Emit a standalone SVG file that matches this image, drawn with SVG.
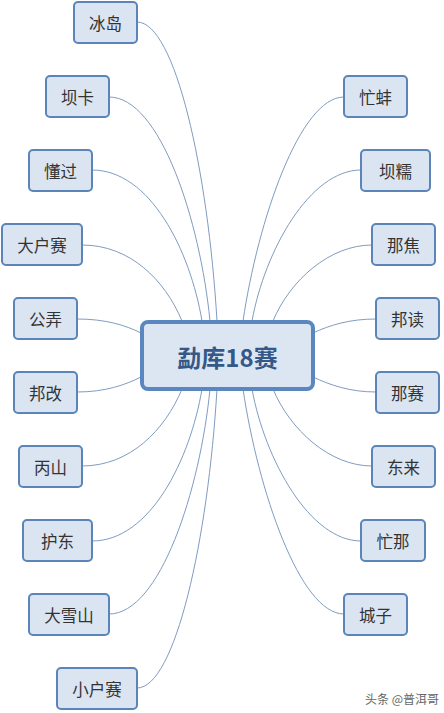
<svg xmlns="http://www.w3.org/2000/svg" width="444" height="713" viewBox="0 0 444 713">
<style>
.n rect{fill:#dbe5f1;stroke:#5b85b8;stroke-width:2}
.n text{font-family:"Noto Sans CJK SC","Noto Sans",sans-serif;font-size:16.5px;fill:#333;text-anchor:middle;dominant-baseline:central}
#links path{fill:none;stroke:#7f9cc0;stroke-width:1}
.c rect{fill:#dce6f2;stroke:#5b87c0;stroke-width:4}
.c text{font-family:"Noto Sans CJK SC","Noto Sans",sans-serif;font-size:24px;font-weight:bold;fill:#345887;text-anchor:middle;dominant-baseline:central}
</style>
<rect width="444" height="713" fill="#fff"/>
<g id="links">
<path d="M137,22 C175,22 208,170 217,321"/>
<path d="M109,97 C160,97 200,220 210,321"/>
<path d="M92,170 C150,170 190,250 202,321"/>
<path d="M82,245 C130,245 165,280 182,321"/>
<path d="M77,319 C105,319 125,325 141,333"/>
<path d="M77,392 C105,392 125,385 141,377"/>
<path d="M82,466 C130,466 165,430 182,389"/>
<path d="M92,541 C150,541 190,460 202,389"/>
<path d="M109,614 C160,614 200,490 210,389"/>
<path d="M137,688 C175,688 208,540 217,389"/>
<path d="M344,97 C300,97 258,220 243,321"/>
<path d="M361,170 C310,170 265,250 252,321"/>
<path d="M372,245 C330,245 290,280 273,321"/>
<path d="M376,319 C350,319 330,325 313,333"/>
<path d="M376,392 C350,392 330,385 313,377"/>
<path d="M372,466 C330,466 290,430 273,389"/>
<path d="M361,541 C310,541 265,460 252,389"/>
<path d="M344,614 C300,614 258,490 243,389"/>
</g>
<g id="center" class="c"><rect x="142" y="322" width="171" height="67" rx="6"/><text x="227.5" y="356">勐库18赛</text></g>
<g id="n1" class="n"><rect x="74" y="2" width="63" height="41" rx="4"/><text x="105.5" y="22.5">冰岛</text></g>
<g id="n2" class="n"><rect x="46" y="76" width="63" height="41" rx="4"/><text x="77.5" y="96.5">坝卡</text></g>
<g id="n3" class="n"><rect x="29" y="150" width="63" height="41" rx="4"/><text x="60.5" y="170.5">懂过</text></g>
<g id="n4" class="n"><rect x="2" y="224" width="80" height="41" rx="4"/><text x="42" y="244.5">大户赛</text></g>
<g id="n5" class="n"><rect x="14" y="298" width="63" height="41" rx="4"/><text x="45.5" y="318.5">公弄</text></g>
<g id="n6" class="n"><rect x="14" y="372" width="63" height="41" rx="4"/><text x="45.5" y="392.5">邦改</text></g>
<g id="n7" class="n"><rect x="19" y="446" width="63" height="41" rx="4"/><text x="50.5" y="466.5">丙山</text></g>
<g id="n8" class="n"><rect x="23" y="520" width="69" height="41" rx="4"/><text x="57.5" y="540.5">护东</text></g>
<g id="n9" class="n"><rect x="29" y="594" width="80" height="41" rx="4"/><text x="69" y="614.5">大雪山</text></g>
<g id="n10" class="n"><rect x="57" y="668" width="80" height="41" rx="4"/><text x="97" y="688.5">小户赛</text></g>
<g id="n11" class="n"><rect x="344" y="76" width="63" height="41" rx="4"/><text x="375.5" y="96.5">忙蚌</text></g>
<g id="n12" class="n"><rect x="361" y="150" width="69" height="41" rx="4"/><text x="395.5" y="170.5">坝糯</text></g>
<g id="n13" class="n"><rect x="372" y="224" width="63" height="41" rx="4"/><text x="403.5" y="244.5">那焦</text></g>
<g id="n14" class="n"><rect x="376" y="298" width="63" height="41" rx="4"/><text x="407.5" y="318.5">邦读</text></g>
<g id="n15" class="n"><rect x="376" y="372" width="63" height="41" rx="4"/><text x="407.5" y="392.5">那赛</text></g>
<g id="n16" class="n"><rect x="372" y="446" width="63" height="41" rx="4"/><text x="403.5" y="466.5">东来</text></g>
<g id="n17" class="n"><rect x="361" y="520" width="64" height="41" rx="4"/><text x="393" y="540.5">忙那</text></g>
<g id="n18" class="n"><rect x="344" y="594" width="63" height="41" rx="4"/><text x="375.5" y="614.5">城子</text></g>
<text x="402" y="698" font-family="'Noto Sans CJK SC','Noto Sans',sans-serif" font-size="12" fill="#666" text-anchor="middle" dominant-baseline="central">头条 @普洱哥</text>
</svg>
